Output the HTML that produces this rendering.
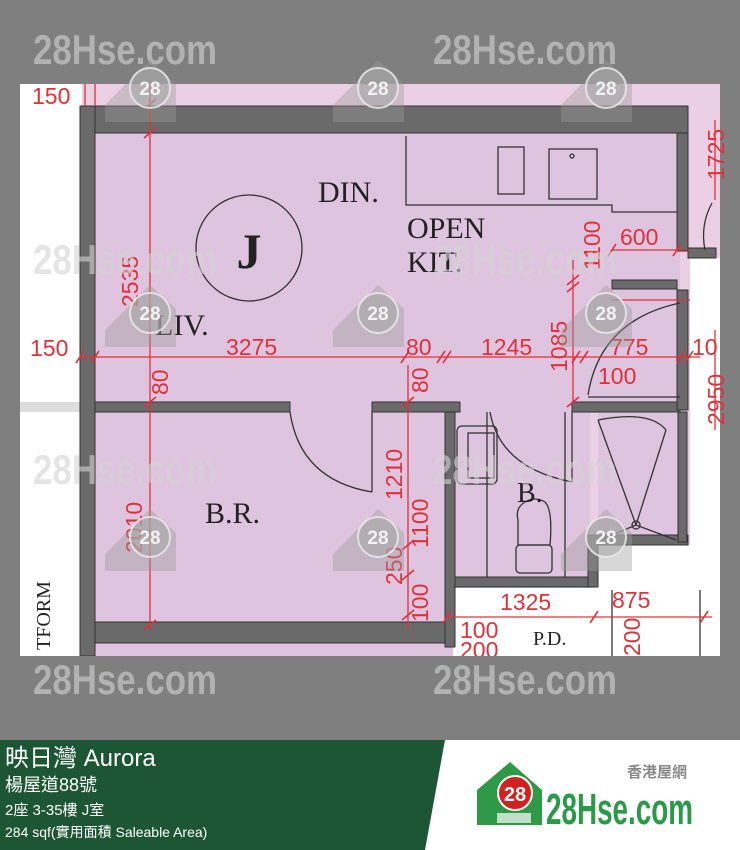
<!DOCTYPE html>
<html><head><meta charset="utf-8"><style>
html,body{margin:0;padding:0;background:#7f7f7f;}
svg{display:block}
</style></head><body>
<svg width="740" height="850" viewBox="0 0 740 850" xmlns="http://www.w3.org/2000/svg">
<rect width="740" height="850" fill="#7f7f7f"/>
<!-- plan area -->
<rect x="20" y="84" width="700" height="572" fill="#ebd0e5"/>
<rect x="20" y="84" width="62" height="572" fill="#ffffff"/>
<rect x="20" y="402" width="62" height="10" fill="#ddd"/>
<!-- main rooms pink -->
<rect x="95" y="133" width="585" height="280" fill="#dec4de"/>
<rect x="95" y="412" width="350" height="212" fill="#dec4de"/>
<rect x="455" y="412" width="135" height="165" fill="#dec4de"/>
<rect x="598" y="412" width="80" height="130" fill="#dec4de"/>
<rect x="95" y="643" width="365" height="13" fill="#dec4de"/>
<!-- white regions -->
<rect x="690" y="258" width="30" height="398" fill="#ffffff"/>
<polygon points="453,588 595,588 595,545 720,545 720,656 453,656" fill="#ffffff"/>
<!-- walls -->
<g fill="#6a6a6a" stroke="#333" stroke-width="1">
<rect x="80" y="106" width="608" height="27"/>
<rect x="80" y="106" width="15" height="550"/>
<rect x="95" y="402" width="195" height="10"/>
<rect x="372" y="402" width="88" height="10"/>
<rect x="572" y="402" width="108" height="10"/>
<rect x="677" y="133" width="11" height="118"/>
<rect x="677" y="290" width="11" height="120"/>
<rect x="612" y="280" width="65" height="9"/>
<rect x="688" y="248" width="28" height="10"/>
<rect x="95" y="622" width="350" height="21"/>
<rect x="445" y="412" width="10" height="235"/>
<rect x="455" y="577" width="140" height="10"/>
<rect x="588" y="535" width="10" height="52"/>
<rect x="598" y="535" width="90" height="10"/>
<rect x="678" y="412" width="9" height="130"/>
</g>
<!-- kitchen counter -->
<g fill="none" stroke="#333" stroke-width="1.3">
<polyline points="406,136 406,205 612,205 612,212 677,212"/>
<rect x="498" y="147" width="26" height="47"/>
<rect x="549" y="149" width="48" height="50"/>
<circle cx="572" cy="156" r="2"/>
<path d="M290,412 Q300,480 372,492"/>
<line x1="372" y1="412" x2="372" y2="492"/>
<path d="M490,412 Q500,468 572,482"/>
<line x1="572" y1="412" x2="572" y2="482"/>
<path d="M588,395 Q600,320 680,303"/>
<line x1="588" y1="397" x2="680" y2="397"/>
<path d="M712,203 Q700,225 705,250"/>
<rect x="457" y="426" width="40" height="58" rx="5"/>
<rect x="468" y="433" width="26" height="45"/>
<path d="M518,545 L518,520 Q515,508 525,502 Q535,496 545,502 Q553,510 550,545 Z"/>
<rect x="516" y="545" width="36" height="28" rx="4"/>
<line x1="487" y1="412" x2="487" y2="577"/>
<line x1="565" y1="412" x2="565" y2="577"/>
<line x1="598" y1="420" x2="636" y2="525"/>
<line x1="666" y1="430" x2="636" y2="525"/>
<line x1="600" y1="540" x2="636" y2="525"/>
<line x1="676" y1="540" x2="636" y2="525"/>
<path d="M598,420 Q650,410 666,430"/>
<circle cx="636" cy="525" r="4"/>
<line x1="612" y1="590" x2="612" y2="656"/>
<line x1="700" y1="590" x2="700" y2="656"/>
<circle cx="249" cy="248" r="53"/>
</g>
<g font-family="Liberation Serif, serif" fill="#222">
<text x="249" y="268" font-size="50" font-weight="bold" text-anchor="middle">J</text>
<text x="318" y="202" font-size="30">DIN.</text>
<text x="407" y="238" font-size="30">OPEN</text>
<text x="407" y="272" font-size="30">KIT.</text>
<text x="155" y="335" font-size="30">LIV.</text>
<text x="205" y="523" font-size="30">B.R.</text>
<text x="517" y="502" font-size="28">B.</text>
<text x="533" y="645" font-size="20">P.D.</text>
<text transform="translate(50,650) rotate(-90)" font-size="20">TFORM</text>
</g>
<!-- dimension lines -->
<g stroke="#e0303a" stroke-width="1.3" fill="none">
<line x1="80" y1="357" x2="700" y2="357"/>
<line x1="150" y1="84" x2="150" y2="630"/>
<line x1="408" y1="365" x2="408" y2="630"/>
<line x1="573" y1="260" x2="573" y2="402"/>
<line x1="612" y1="250" x2="690" y2="250"/>
<line x1="447" y1="617" x2="712" y2="617"/>
<line x1="85" y1="84" x2="85" y2="106"/>
<line x1="95" y1="84" x2="95" y2="106"/>
<line x1="715" y1="120" x2="715" y2="200"/>
<line x1="715" y1="330" x2="715" y2="430"/>
<line x1="612" y1="300" x2="690" y2="300"/>
<g stroke-width="1.6">
<path d="M76,363 L84,351 M91,363 L99,351 M401,363 L409,351 M437,363 L445,351 M443,363 L451,351 M572,363 L580,351 M580,363 L588,351 M677,363 L685,351 M685,363 L693,351"/>
<path d="M144,138 L156,128 M144,109 L156,99 M144,407 L156,397 M144,630 L156,620 M402,407 L414,397 M402,550 L414,540 M402,580 L414,570 M402,620 L414,610 M567,292 L579,282 M567,285 L579,275 M567,407 L579,397 M608,256 L616,244 M673,256 L681,244 M443,623 L451,611 M590,623 L598,611 M700,623 L708,611"/>
</g>
</g>
<g font-family="Liberation Sans, sans-serif" fill="#e0303a" font-size="23">
<text x="32" y="104">150</text>
<text x="30" y="356">150</text>
<text x="226" y="355">3275</text>
<text x="406" y="355">80</text>
<text x="481" y="355">1245</text>
<text x="610" y="355">775</text>
<text x="598" y="384">100</text>
<text x="692" y="355">10</text>
<text x="620" y="245">600</text>
<text x="500" y="610">1325</text>
<text x="612" y="608">875</text>
<text x="460" y="638">100</text>
<text x="460" y="658">200</text>
<text transform="translate(138,307) rotate(-90)">2535</text>
<text transform="translate(168,395) rotate(-90)">80</text>
<text transform="translate(142,553) rotate(-90)">2010</text>
<text transform="translate(428,393) rotate(-90)">80</text>
<text transform="translate(402,500) rotate(-90)">1210</text>
<text transform="translate(428,548) rotate(-90)">1100</text>
<text transform="translate(402,585) rotate(-90)">250</text>
<text transform="translate(428,622) rotate(-90)">100</text>
<text transform="translate(600,270) rotate(-90)">1100</text>
<text transform="translate(567,372) rotate(-90)">1085</text>
<text transform="translate(640,656) rotate(-90)">200</text>
<text transform="translate(724,180) rotate(-90)">1725</text>
<text transform="translate(724,425) rotate(-90)">2950</text>
</g>
<rect x="0" y="656" width="740" height="84" fill="#7f7f7f"/>
<!-- watermarks -->
<g font-family="Liberation Sans Narrow, Liberation Sans, sans-serif" font-weight="bold" font-size="42" fill="#d4d4d4" fill-opacity="0.6">
<text x="33" y="64" textLength="184" lengthAdjust="spacingAndGlyphs">28Hse.com</text>
<text x="433" y="64" textLength="184" lengthAdjust="spacingAndGlyphs">28Hse.com</text>
<text x="33" y="274" textLength="184" lengthAdjust="spacingAndGlyphs">28Hse.com</text>
<text x="433" y="274" textLength="184" lengthAdjust="spacingAndGlyphs">28Hse.com</text>
<text x="33" y="484" textLength="184" lengthAdjust="spacingAndGlyphs">28Hse.com</text>
<text x="433" y="484" textLength="184" lengthAdjust="spacingAndGlyphs">28Hse.com</text>
<text x="33" y="694" textLength="184" lengthAdjust="spacingAndGlyphs">28Hse.com</text>
<text x="433" y="694" textLength="184" lengthAdjust="spacingAndGlyphs">28Hse.com</text>
</g>
<g fill="#9a9a9a" fill-opacity="0.4">
<path d="M105,105 L150,60 L176,84 L176,122 L105,122 Z"/>
<path d="M333,105 L378,60 L404,84 L404,122 L333,122 Z"/>
<path d="M561,105 L606,60 L632,84 L632,122 L561,122 Z"/>
<path d="M105,330 L150,285 L176,309 L176,347 L105,347 Z"/>
<path d="M333,330 L378,285 L404,309 L404,347 L333,347 Z"/>
<path d="M561,330 L606,285 L632,309 L632,347 L561,347 Z"/>
<path d="M105,554 L150,509 L176,533 L176,571 L105,571 Z"/>
<path d="M333,554 L378,509 L404,533 L404,571 L333,571 Z"/>
<path d="M561,554 L606,509 L632,533 L632,571 L561,571 Z"/>
</g>
<g fill="#a8a8a8" fill-opacity="0.6" stroke="#eee" stroke-opacity="0.8" stroke-width="2">
<circle cx="150" cy="88" r="20"/><circle cx="378" cy="88" r="20"/><circle cx="606" cy="88" r="20"/>
<circle cx="150" cy="313" r="20"/><circle cx="378" cy="313" r="20"/><circle cx="606" cy="313" r="20"/>
<circle cx="150" cy="537" r="20"/><circle cx="378" cy="537" r="20"/><circle cx="606" cy="537" r="20"/>
</g>
<g font-family="Liberation Sans, sans-serif" font-weight="bold" font-size="19" fill="#f2f2f2" text-anchor="middle">
<text x="150" y="95">28</text><text x="378" y="95">28</text><text x="606" y="95">28</text>
<text x="150" y="320">28</text><text x="378" y="320">28</text><text x="606" y="320">28</text>
<text x="150" y="544">28</text><text x="378" y="544">28</text><text x="606" y="544">28</text>
</g>
<!-- banner -->
<rect x="0" y="740" width="740" height="110" fill="#ffffff"/>
<polygon points="0,740 445,740 425,850 0,850" fill="#1d5634"/>
<g font-family="Liberation Sans, 'Noto Sans CJK TC', sans-serif" fill="#ffffff">
<text x="5" y="766" font-size="24">映日灣 Aurora</text>
<text x="5" y="791" font-size="18">楊屋道88號</text>
<text x="5" y="815" font-size="15">2座 3-35樓 J室</text>
<text x="5" y="837" font-size="14">284 sqf(實用面積 Saleable Area)</text>
</g>
<!-- logo -->
<path d="M477,790 L510,762 L542,790 L542,825 L477,825 Z" fill="#2e9a48"/>
<rect x="497" y="813" width="34" height="10" fill="#ffffff" fill-opacity="0.7"/>
<circle cx="515" cy="793" r="17" fill="#d4201f" stroke="#fff" stroke-width="2"/>
<text x="515" y="801" font-family="Liberation Sans, sans-serif" font-weight="bold" font-size="20" fill="#fff" text-anchor="middle">28</text>
<text x="546" y="824" font-family="Liberation Sans Narrow, Liberation Sans, sans-serif" font-weight="bold" font-size="44" fill="#2a9a48" textLength="147" lengthAdjust="spacingAndGlyphs">28Hse.com</text>
<text x="627" y="777" font-family="Liberation Sans, 'Noto Sans CJK TC', sans-serif" font-weight="bold" font-size="15" fill="#888">香港屋網</text>
</svg>
</body></html>
